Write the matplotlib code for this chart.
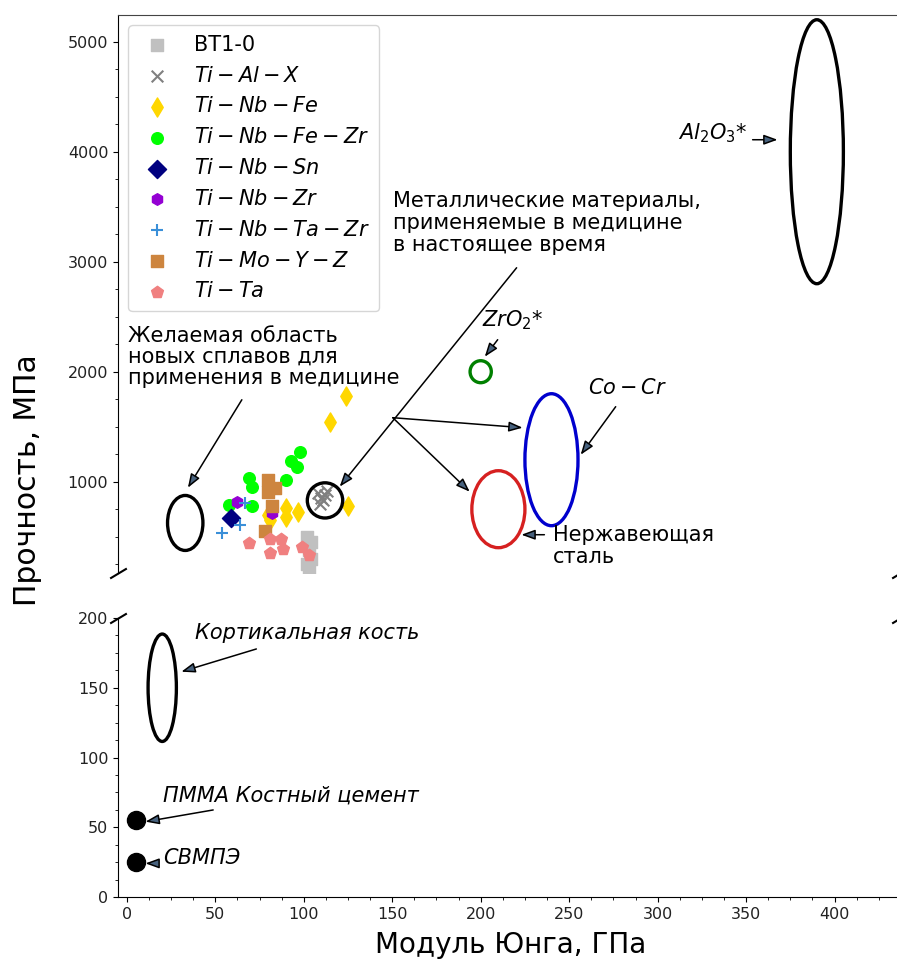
import matplotlib
matplotlib.use('Agg')
import matplotlib.pyplot as plt
from matplotlib.patches import Ellipse
from matplotlib.ticker import AutoMinorLocator, MultipleLocator

# ---------------- data ----------------
series_labels = ['ВТ1-0', '$Ti-Al-X$', '$Ti-Nb-Fe$', '$Ti-Nb-Fe-Zr$', '$Ti-Nb-Sn$',
                 '$Ti-Nb-Zr$', '$Ti-Nb-Ta-Zr$', '$Ti-Mo-Y-Z$', '$Ti-Ta$']

bt1_E = [102, 104, 103, 104, 102, 103]
bt1_S = [500, 450, 380, 300, 250, 200]

tialx_E = [108, 112, 110, 113, 109, 111]
tialx_S = [900, 880, 850, 920, 800, 830]

tinbfe_E = [124, 115, 125, 90, 97, 90, 81, 80]
tinbfe_S = [1780, 1540, 780, 760, 725, 680, 650, 700]

tinbfezr_E = [98, 93, 96, 90, 69, 71, 58, 71]
tinbfezr_S = [1266, 1185, 1134, 1012, 1033, 952, 790, 775]

tinbsn_E = [59]
tinbsn_S = [670]

tinbzr_E = [62, 82]
tinbzr_S = [815, 715]

tinbtazr_E = [67, 64, 54]
tinbtazr_S = [810, 605, 535]

timoyz_E = [80, 84, 80, 82, 78]
timoyz_S = [1015, 945, 905, 780, 550]

tita_E = [69, 81, 87, 81, 88, 99, 103]
tita_S = [445, 480, 480, 355, 385, 410, 335]

# reference material regions: (E centre, strength centre, E width, strength height)
al2o3_region = (390, 4000, 30, 2400)
zro2_region = (200, 2000, 12, 200)
cocr_region = (240, 1200, 30, 1200)
steel_region = (210, 750, 30, 700)
desired_region = (33, 625, 20, 500)
metals_region = (112, 830, 20, 320)
bone_region = (20, 150, 16, 77)

pmma_E, pmma_S = [5], [55]
uhmwpe_E, uhmwpe_S = [5], [25]

# ---------------- figure ----------------
fig = plt.figure(figsize=(8.97, 9.6), dpi=100)
left = 118 / 897
width = (900 - 118) / 897
ax_top = fig.add_axes([left, 1 - 573 / 960, width, 558 / 960])
ax_bot = fig.add_axes([left, 1 - 897 / 960, width, 279 / 960])

xlim = (-5, 437)
for ax in (ax_top, ax_bot):
    ax.set_xlim(*xlim)
    ax.spines['right'].set_visible(False)
    ax.tick_params(labelsize=11.5, labelcolor='#222222')
    ax.xaxis.set_major_locator(MultipleLocator(50))
    ax.xaxis.set_minor_locator(AutoMinorLocator(4))
    ax.yaxis.set_minor_locator(AutoMinorLocator(4))

ax_top.set_ylim(170, 5243)
ax_top.yaxis.set_major_locator(MultipleLocator(1000))
ax_top.spines['bottom'].set_visible(False)
ax_top.spines['top'].set_color('#444444')
ax_top.tick_params(axis='x', which='both', bottom=False, labelbottom=False)

ax_bot.set_ylim(0, 200)
ax_bot.yaxis.set_major_locator(MultipleLocator(50))
ax_bot.spines['top'].set_visible(False)

# scatter series
ms = 70
ax_top.scatter(bt1_E, bt1_S, marker='s', s=ms, color='#c0c0c0', label=series_labels[0])
ax_top.scatter(tialx_E, tialx_S, marker='x', s=ms, color='gray', label=series_labels[1])
ax_top.scatter(tinbfe_E, tinbfe_S, marker='d', s=95, color='gold', label=series_labels[2])
ax_top.scatter(tinbfezr_E, tinbfezr_S, marker='o', s=ms, color='lime', label=series_labels[3])
ax_top.scatter(tinbsn_E, tinbsn_S, marker='D', s=85, color='navy', label=series_labels[4])
ax_top.scatter(tinbzr_E, tinbzr_S, marker='h', s=ms, color='darkviolet', label=series_labels[5])
ax_top.scatter(tinbtazr_E, tinbtazr_S, marker='+', s=ms, color='#3a8fd8', label=series_labels[6])
ax_top.scatter(timoyz_E, timoyz_S, marker='s', s=ms, color='peru', label=series_labels[7])
ax_top.scatter(tita_E, tita_S, marker='p', s=ms + 10, color='lightcoral', label=series_labels[8])

leg = ax_top.legend(loc='upper left', fontsize=15, labelspacing=0.52, handletextpad=0.9,
                    borderpad=0.45, handlelength=1.8)

# ellipses
def add_ellipse(ax, region, color):
    cx, cy, w, h = region
    ax.add_patch(Ellipse((cx, cy), w, h, fill=False, edgecolor=color, lw=2.4))

add_ellipse(ax_top, al2o3_region, 'black')
add_ellipse(ax_top, zro2_region, 'green')
add_ellipse(ax_top, cocr_region, 'mediumblue')
add_ellipse(ax_top, steel_region, '#d62020')
add_ellipse(ax_top, desired_region, 'black')
add_ellipse(ax_top, metals_region, 'black')
add_ellipse(ax_bot, bone_region, 'black')

ax_bot.plot(pmma_E, pmma_S, 'o', color='black', ms=13)
ax_bot.plot(uhmwpe_E, uhmwpe_S, 'o', color='black', ms=13)

# arrows
arrow_kw = dict(arrowstyle='-|>,head_length=0.55,head_width=0.2', mutation_scale=15,
                fc='#47617d', ec='black', lw=1.1, shrinkA=0, shrinkB=0)

def arrow(ax, tail, head):
    ax.annotate('', xy=head, xytext=tail, arrowprops=arrow_kw)

fs = 15
ax_top.text(0.5, 2420, 'Желаемая область\nновых сплавов для\nприменения в медицине',
            fontsize=fs, ha='left', va='top', linespacing=1.08)
arrow(ax_top, (65, 1745), (34.5, 945))

ax_top.text(150.3, 3640, 'Металлические материалы,\nприменяемые в медицине\nв настоящее время',
            fontsize=fs, ha='left', va='top', linespacing=1.12)
arrow(ax_top, (220.3, 2945), (120.3, 955))
arrow(ax_top, (150.3, 1582), (223.7, 1491))
arrow(ax_top, (150.3, 1582), (193.8, 909))

ax_top.text(200.6, 2470, '$ZrO_2$*', fontsize=fs, ha='left', va='center')
arrow(ax_top, (209.6, 2291), (202.3, 2136))

ax_top.text(260.5, 1855, '$Co-Cr$', fontsize=fs, ha='left', va='center')
arrow(ax_top, (276.3, 1682), (256.5, 1245))

ax_top.text(240.7, 414, 'Нержавеющая\nсталь', fontsize=fs, ha='left', va='center',
            linespacing=1.1)
arrow(ax_top, (236, 518), (223, 518))

ax_top.text(311.3, 4170, '$Al_2O_3$*', fontsize=fs, ha='left', va='center')
arrow(ax_top, (353.7, 4109), (367.8, 4109))

ax_bot.text(38.4, 189, 'Кортикальная кость', fontsize=fs, style='italic', ha='left', va='center')
arrow(ax_bot, (73.2, 177.8), (30.8, 161.5))

ax_bot.text(20.3, 73, 'ПММА Костный цемент', fontsize=fs, style='italic', ha='left', va='center')
arrow(ax_bot, (48.8, 62.4), (10.5, 54))

ax_bot.text(20.3, 28, 'СВМПЭ', fontsize=fs, style='italic', ha='left', va='center')
arrow(ax_bot, (15.8, 24.1), (10.5, 24.1))

# break marks
d = 0.6
kw = dict(marker=[(-1, -d), (1, d)], markersize=12, linestyle='none', color='k',
          mec='k', mew=1.5, clip_on=False)
ax_top.plot([0, 1], [0, 0], transform=ax_top.transAxes, **kw)
ax_bot.plot([0, 1], [1, 1], transform=ax_bot.transAxes, **kw)

# axis labels
fig.text(511 / 897, 1 - 945 / 960, 'Модуль Юнга, ГПа', fontsize=20, ha='center', va='center')
fig.text(27 / 897, 1 - 480 / 960, 'Прочность, МПа', fontsize=21.5, ha='center', va='center',
         rotation=90)

fig.savefig('out.png', dpi=100)
